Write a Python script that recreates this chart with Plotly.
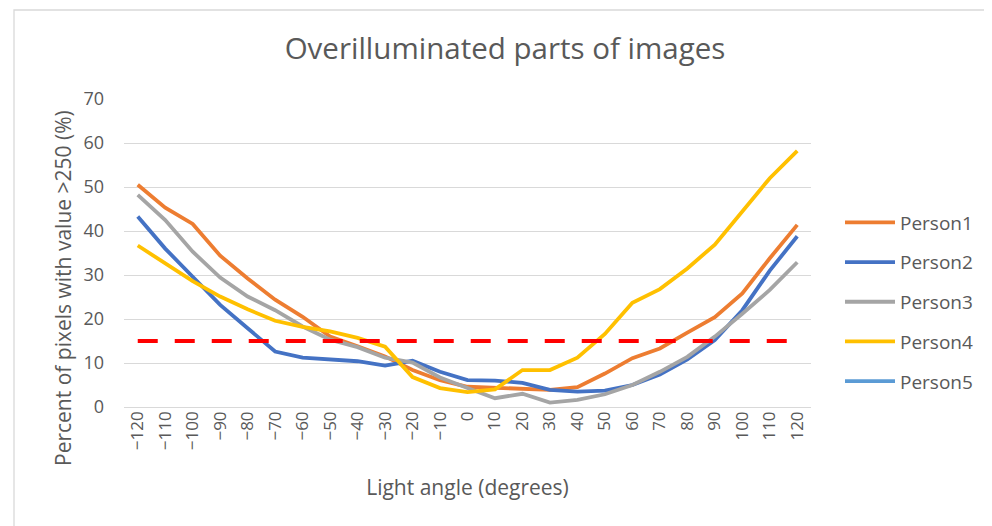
import plotly.graph_objects as go

angles = list(range(-120, 121, 10))
tick_labels = [str(a).replace("-", "\u2212") for a in angles]

person1 = [50.5, 45.3, 41.6, 34.4, 29.2, 24.4, 20.5, 16.0, 13.8, 11.5, 8.4, 6.1, 4.6, 4.4, 4.0, 3.9, 4.5,
           7.6, 11.1, 13.3, 16.9, 20.4, 25.8, 33.8, 41.4]
person2 = [43.3, 36.0, 29.6, 23.2, 17.9, 12.6, 11.2, 10.9, 10.4, 9.4, 10.5, 8.0, 6.1, 6.0, 5.5, 3.9, 3.5,
           3.7, 5.0, 7.4, 10.8, 15.2, 22.0, 31.0, 38.8]
person3 = [48.2, 42.5, 35.3, 29.4, 25.1, 22.0, 18.3, 15.3, 13.6, 11.2, 10.1, 6.7, 4.3, 2.0, 3.0, 1.0, 1.6,
           2.9, 5.0, 8.0, 11.4, 16.0, 21.2, 26.6, 32.9]
person4 = [36.7, 32.7, 28.6, 25.1, 22.2, 19.6, 18.2, 17.2, 15.7, 13.7, 6.8, 4.3, 3.4, 4.0, 8.4, 8.4, 11.2,
           16.6, 23.7, 26.8, 31.5, 36.9, 44.4, 52.0, 58.2]
person5 = []
threshold = [15] * len(angles)

names = ["Person1", "Person2", "Person3", "Person4", "Person5"]
colors = ["#ED7D31", "#4472C4", "#A5A5A5", "#FFC000", "#5B9BD5"]
series = [person1, person2, person3, person4, person5]

FONT = "'Open Sans', sans-serif"
TXT = "#595959"

fig = go.Figure()
for nm, col, vals in zip(names, colors, series):
    fig.add_trace(go.Scatter(
        x=tick_labels[:len(vals)] if vals else [None], y=vals if vals else [None],
        mode="lines", name=nm, legendgroup=nm,
        line=dict(color=col, width=3.8),
        hoverinfo="x+y+name",
    ))

fig.add_trace(go.Scatter(
    x=tick_labels, y=threshold, mode="lines", showlegend=False,
    line=dict(color="#FF0000", width=4, dash="20px,17px"),
))

# page body has an 8px margin; figure coordinates = screen coordinates - 8
OFF = 8
W, H = 992 - OFF, 526 - OFF
L, T = 124 - OFF, 99 - OFF
R = W - (811 - OFF)
B = H - (407 - OFF)
pw, ph = W - L - R, H - T - B


def px(xs):
    return (xs - OFF - L) / pw


def py(ys):
    return (H - B - (ys - OFF)) / ph


fig.update_layout(
    width=W, height=H,
    margin=dict(l=L, r=R, t=T, b=B, pad=0),
    paper_bgcolor="white", plot_bgcolor="white",
    font=dict(family=FONT, color=TXT, size=16),
    title=dict(text="Overilluminated parts of images", x=(505 - OFF) / W, xanchor="center",
               y=1 - (49 - OFF) / H, yanchor="middle", xref="container", yref="container",
               font=dict(size=29.5, color=TXT, family=FONT)),
    xaxis=dict(type="category", categoryorder="array", categoryarray=tick_labels,
               range=[-0.5, len(angles) - 0.5],
               tickangle=-90, showgrid=False, zeroline=False,
               showline=False, ticks="",
               tickfont=dict(size=17, color=TXT),
               title=dict(text="Light angle (degrees)", font=dict(size=21, color=TXT), standoff=31)),
    yaxis=dict(range=[0, 70], dtick=10, tick0=0, showgrid=True, gridcolor="#D9D9D9", gridwidth=1.3,
               zeroline=True, zerolinecolor="#D9D9D9", zerolinewidth=1.3,
               showline=False, ticks="", ticklabelstandoff=19,
               tickfont=dict(size=18, color=TXT)),
    annotations=[dict(text="Percent of pixels with value >250 (%)", textangle=-90,
                      xref="paper", yref="paper", x=px(63), y=py(288),
                      xanchor="center", yanchor="middle", showarrow=False,
                      font=dict(size=21, color=TXT, family=FONT))],
    legend=dict(x=px(840), xanchor="left", y=py(302), yanchor="middle",
                font=dict(size=19, color=TXT), tracegroupgap=12, itemwidth=50,
                bgcolor="rgba(0,0,0,0)"),
    showlegend=True,
    shapes=[dict(type="rect", xref="paper", yref="paper",
                 x0=px(14), x1=px(1010), y0=py(560), y1=py(10),
                 line=dict(color="#D9D9D9", width=1.3), fillcolor="rgba(0,0,0,0)", layer="below")],
)

fig.write_html("out.html")
